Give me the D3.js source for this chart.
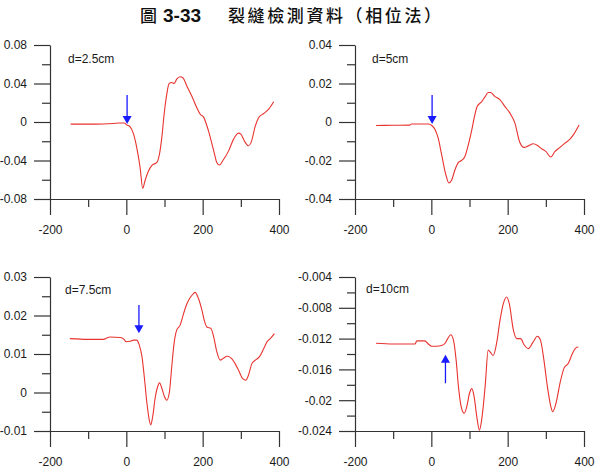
<!DOCTYPE html>
<html>
<head>
<meta charset="utf-8">
<script src="https://cdn.jsdelivr.net/npm/d3@7"></script>
<style>
  body { margin: 0; background: #fff; }
  text { font-family: "Liberation Sans", Arial, sans-serif; }
</style>
</head>
<body>
<script>
// Axes communs
var xTicks = [-200, 0, 200, 400];
var xLabels = ["-200", "0", "200", "400"];

// d = 2.5 cm
var x25 = [-146, -100, -60, -34, -20, -5, 1, 10, 19, 27, 36, 43, 49, 58, 67, 80, 87, 93,
  99, 106, 112, 119, 125, 132, 141, 148, 159, 172, 185, 194, 202, 215, 229, 237, 244, 253,
  268, 281, 294, 300, 309, 320, 327, 338, 347, 360, 373, 386];
var y25 = [-0.0022, -0.0022, -0.002, -0.0015, -0.001, -0.001, -0.003, -0.005, -0.0126, -0.026,
  -0.047, -0.069, -0.061, -0.051, -0.045, -0.042, -0.033, -0.016, 0.008, 0.029, 0.0398, 0.041,
  0.04, 0.0445, 0.047, 0.046, 0.037, 0.0265, 0.0145, 0.0078, 0.0053, -0.009, -0.03, -0.042,
  -0.0447, -0.04, -0.03, -0.0178, -0.0116, -0.0126, -0.0195, -0.0247, -0.0212, -0.004, 0.0047,
  0.0088, 0.0133, 0.021];
var yTicks25 = [-0.08, -0.04, 0, 0.04, 0.08];
var yLabels25 = ["-0.08", "-0.04", "0", "0.04", "0.08"];
var arrow25 = [2, 0.028, -0.002]; // x, depart, pointe

// d = 5 cm
var x5 = [-145, -100, -56, -52, -30, -8, 1, 10, 18, 27, 38, 46, 53, 62, 71, 79, 88, 97,
  106, 114, 120, 132, 141, 149, 155, 167, 180, 193, 206, 219, 231, 243, 254, 267, 278, 289,
  300, 313, 324, 337, 350, 362, 372, 387];
var y5 = [-0.0018, -0.0017, -0.0016, -0.001, -0.001, -0.001, -0.0018, -0.004, -0.0084, -0.017,
  -0.0274, -0.0317, -0.0303, -0.0248, -0.021, -0.02, -0.0179, -0.0118, -0.0041, 0.0037, 0.008,
  0.0106, 0.0132, 0.0153, 0.0153, 0.0132, 0.0115, 0.008, 0.0046, -0.0006, -0.0101, -0.0132,
  -0.0124, -0.0113, -0.0122, -0.0139, -0.0153, -0.0182, -0.0153, -0.0132, -0.011, -0.0092,
  -0.0067, -0.0015];
var yTicks5 = [-0.04, -0.02, 0, 0.02, 0.04];
var yLabels5 = ["-0.04", "-0.02", "0", "0.02", "0.04"];
var arrow5 = [2, 0.014, -0.001];

// d = 7.5 cm
var x75 = [-148, -100, -60, -50, -43, -16, -6, -1, 10, 19, 27, 34, 41, 47, 54, 60, 64, 69,
  76, 82, 87, 93, 100, 106, 113, 119, 125, 132, 141, 150, 159, 167, 176, 180, 189, 198,
  204, 211, 222, 229, 237, 246, 253, 264, 274, 285, 294, 305, 313, 320, 329, 338, 349, 360,
  369, 377, 388];
var y75 = [0.014, 0.0138, 0.0138, 0.0142, 0.0144, 0.0143, 0.0138, 0.0132, 0.0133, 0.0136,
  0.0136, 0.0123, 0.0093, 0.0041, -0.0028, -0.0071, -0.0084, -0.0063, -0.0011, 0.0015, 0.0025,
  0.0011, -0.0011, -0.002, 0.0002, 0.0067, 0.0127, 0.0162, 0.0175, 0.0205, 0.0231, 0.0246,
  0.0257, 0.026, 0.0244, 0.0214, 0.0188, 0.017, 0.0166, 0.0144, 0.0106, 0.0084, 0.0088, 0.0094,
  0.009, 0.0075, 0.0058, 0.0036, 0.0032, 0.0045, 0.0075, 0.0084, 0.0093, 0.0114, 0.0132, 0.014,
  0.0153];
var yTicks75 = [-0.01, 0, 0.01, 0.02, 0.03];
var yLabels75 = ["-0.01", "0", "0.01", "0.02", "0.03"];
var arrow75 = [33, 0.0227, 0.0154];

// d = 10 cm
var x10 = [-145, -100, -43, -38, -17, -8, 1, 14, 27, 36, 43, 51, 58, 65, 71, 78, 86, 93,
  100, 106, 112, 119, 126, 132, 141, 149, 155, 162, 171, 180, 189, 197, 204, 215, 224, 234,
  243, 254, 266, 278, 286, 295, 304, 313, 318, 327, 337, 348, 359, 370, 379, 385];
var y10 = [-0.0126, -0.0127, -0.0127, -0.0123, -0.0123, -0.0127, -0.013, -0.013, -0.0129,
  -0.0126, -0.012, -0.0115, -0.0122, -0.0148, -0.0182, -0.0208, -0.0217, -0.0208, -0.0191,
  -0.0185, -0.0195, -0.0221, -0.0239, -0.0225, -0.0182, -0.0135, -0.0138, -0.0142, -0.0126,
  -0.0096, -0.0074, -0.0066, -0.0074, -0.0109, -0.012, -0.012, -0.0128, -0.0133, -0.0125,
  -0.0117, -0.0122, -0.0148, -0.0182, -0.0208, -0.0215, -0.0203, -0.0178, -0.0158, -0.0152,
  -0.0139, -0.0132, -0.0131];
var yTicks10 = [-0.024, -0.02, -0.016, -0.012, -0.008, -0.004];
var yLabels10 = ["-0.024", "-0.02", "-0.016", "-0.012", "-0.008", "-0.004"];
var arrow10 = [37, -0.0178, -0.0141];

var W = 229, H = 154;

// points milieux pour les petites graduations
function milieux(t) {
  return d3.pairs(t).map(function (p) { return (p[0] + p[1]) / 2; });
}

function panneau(svg, left, top, xs, ys, yTicks, yLabels, label, lx, ly, arrow) {
  var g = svg.append("g").attr("transform", `translate(${left},${top})`);

  var x = d3.scaleLinear().domain([-200, 400]).range([0, W]);
  var y = d3.scaleLinear().domain([yTicks[0], yTicks[yTicks.length - 1]]).range([H, 0]);

  // petites graduations
  g.append("g").attr("class", "ax").attr("transform", `translate(0,${H})`)
    .call(d3.axisBottom(x).tickValues(milieux(xTicks)).tickSize(8).tickFormat(""))
    .select(".domain").remove();
  g.append("g").attr("class", "ax")
    .call(d3.axisLeft(y).tickValues(milieux(yTicks)).tickSize(8).tickFormat(""))
    .select(".domain").remove();

  // grandes graduations
  g.append("g").attr("class", "ax").attr("transform", `translate(0,${H})`)
    .call(d3.axisBottom(x).tickValues(xTicks).tickSize(16).tickSizeOuter(0).tickPadding(10)
      .tickFormat(function (d, i) { return xLabels[i]; }));
  g.append("g").attr("class", "ax")
    .call(d3.axisLeft(y).tickValues(yTicks).tickSize(16).tickSizeOuter(0).tickPadding(7)
      .tickFormat(function (d, i) { return yLabels[i]; }));

  g.selectAll(".ax").attr("font-family", null).attr("font-size", 12);
  g.selectAll(".ax path, .ax line").attr("stroke", "#333").attr("stroke-width", 1.2);
  g.selectAll(".ax text").attr("fill", "#1a1a1a");

  // courbe
  var line = d3.line()
    .x(function (d, i) { return x(xs[i]); })
    .y(function (d) { return y(d); })
    .curve(d3.curveMonotoneX);
  g.append("path").datum(ys)
    .attr("d", line)
    .attr("fill", "none")
    .attr("stroke", "#e8332f")
    .attr("stroke-width", 1.1);

  // fleche
  var ax = x(arrow[0]), a0 = y(arrow[1]), a1 = y(arrow[2]);
  var dir = a1 > a0 ? 1 : -1;
  g.append("line")
    .attr("x1", ax).attr("x2", ax)
    .attr("y1", a0).attr("y2", a1 - dir * 7)
    .attr("stroke", "#1a1aff").attr("stroke-width", 1.3);
  g.append("path")
    .attr("d", `M${ax - 4.5},${a1 - dir * 8}L${ax + 4.5},${a1 - dir * 8}L${ax},${a1}Z`)
    .attr("fill", "#1a1aff");

  g.append("text").attr("x", lx).attr("y", ly)
    .attr("font-size", 12).attr("fill", "#1a1a1a").text(label);
}

d3.select(window).on("load", function () {
  var svg = d3.select("body").append("svg")
    .attr("width", 600).attr("height", 475);

  // titre
  var t = svg.append("text").attr("y", 22).attr("fill", "#111");
  t.append("tspan").attr("x", 140)
    .attr("font-family", "'Noto Sans CJK TC', sans-serif").attr("font-size", 17)
    .attr("font-weight", 500)
    .text("圖");
  t.append("tspan").attr("x", 163)
    .attr("font-weight", "bold").attr("font-size", 19)
    .text("3-33");
  t.append("tspan").attr("x", 228)
    .attr("font-family", "'Noto Sans CJK TC', sans-serif").attr("font-size", 17)
    .attr("font-weight", 500)
    .attr("letter-spacing", 2.6)
    .text("裂縫檢測資料（相位法）");

  panneau(svg, 50, 45, x25, y25, yTicks25, yLabels25, "d=2.5cm", 18, 17.5, arrow25);
  panneau(svg, 355, 45, x5, y5, yTicks5, yLabels5, "d=5cm", 17, 17.5, arrow5);
  panneau(svg, 50, 277, x75, y75, yTicks75, yLabels75, "d=7.5cm", 15, 16.5, arrow75);
  panneau(svg, 355, 277, x10, y10, yTicks10, yLabels10, "d=10cm", 11, 15.5, arrow10);
});
</script>
</body>
</html>
